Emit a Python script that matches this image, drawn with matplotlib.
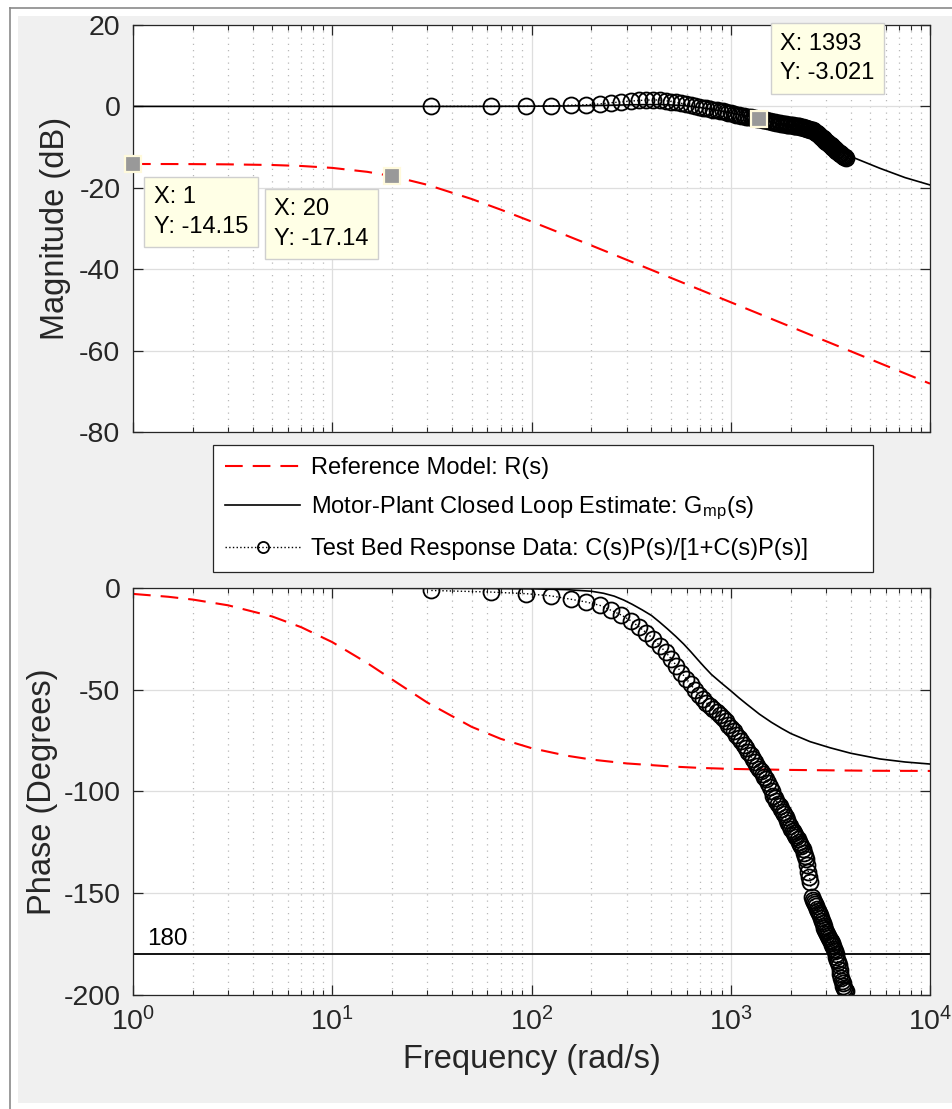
import matplotlib
matplotlib.use("Agg")
import numpy as np
import matplotlib.pyplot as plt
from matplotlib.patches import Rectangle
from matplotlib.lines import Line2D

plt.rcParams["font.family"] = ["Liberation Sans", "DejaVu Sans"]
plt.rcParams["mathtext.fontset"] = "custom"
plt.rcParams["mathtext.rm"] = "Liberation Sans"
plt.rcParams["mathtext.it"] = "Liberation Sans:italic"
plt.rcParams["axes.unicode_minus"] = False

# Reference model R(s)
ref_w = [1, 1.5, 2, 3, 5, 7, 10, 15, 20, 30, 50, 70, 100, 150, 200, 300,
         500, 700, 1000, 2000, 5000, 10000]
ref_mag = [-14.15, -14.16, -14.18, -14.24, -14.40, -14.64, -15.11, -16.08,
           -17.14, -19.26, -22.74, -25.36, -28.29, -31.72, -34.18, -37.68,
           -42.11, -45.03, -48.12, -54.14, -62.10, -68.12]
ref_phase = [-2.9, -4.3, -5.7, -8.5, -14.0, -19.3, -26.6, -36.9, -45.0,
             -56.3, -68.2, -74.1, -78.7, -82.4, -84.3, -86.2, -87.7, -88.4,
             -88.9, -89.4, -89.8, -89.9]

# Motor-plant closed loop estimate Gmp(s)
gmp_w = [1, 10, 50, 100, 150, 200, 230, 260, 290, 320, 360, 400, 440, 480,
         530, 580, 630, 680, 740, 800, 900, 1000, 1100, 1200, 1393, 1600,
         1800, 2000, 2500, 3150, 4000, 5600, 7500, 10000]
gmp_mag = [0, 0, 0, 0.05, 0.1, 0.2, 0.25, 0.3, 0.35, 0.4, 0.43, 0.45, 0.45,
           0.4, 0.3, 0.2, 0.0, -0.2, -0.45, -0.7, -1.15, -1.6, -1.95, -2.3,
           -3.021, -3.8, -4.55, -5.3, -7.1, -9.3, -12.3, -15.2, -17.5, -19.3]
gmp_phase = [0, -0.1, -0.2, -0.4, -0.8, -1.6, -2.6, -4.0, -5.9, -8.0, -10.8,
             -13.5, -16.8, -20.0, -23.8, -27.5, -31.3, -35.0, -39.0, -42.5,
             -46.8, -50.5, -54.0, -57.0, -62.0, -66.0, -69.0, -71.5, -75.5,
             -78.5, -81.2, -84.0, -85.5, -86.5]

# Test bed response data (frequency in Hz)
test_hz = [5, 10, 15, 20, 25, 30, 35, 40, 45, 50,
           55, 60, 65, 70, 75, 80, 85, 90, 95, 100,
           105, 110, 115, 120, 125, 130, 135, 140, 145, 150,
           155, 160, 165, 170, 175, 180, 185, 190, 195, 200,
           205, 210, 215, 220, 225, 230, 235, 240, 245, 250,
           255, 260, 265, 270, 275, 280, 285, 290, 295, 300,
           305, 310, 315, 320, 325, 330, 335, 340, 345, 350,
           355, 360, 365, 370, 375, 380, 385, 390, 395, 400,
           405, 410, 415, 420, 425, 430, 435, 440, 445, 450,
           455, 460, 465, 470, 475, 480, 485, 490, 495, 500,
           505, 510, 515, 520, 525, 530, 535, 540, 545, 550,
           555, 560, 565, 570, 575, 580, 585, 590, 595, 600]
test_mag = [0.0, 0.0, 0.0, 0.1, 0.3, 0.4, 0.6, 0.9, 1.1, 1.3,
            1.45, 1.55, 1.6, 1.55, 1.4, 1.2, 1.0, 0.75, 0.5, 0.25,
            0.05, -0.1, -0.3, -0.45, -0.6, -0.8, -0.95, -1.1, -1.25, -1.4,
            -1.55, -1.7, -1.85, -2.0, -2.1, -2.25, -2.4, -2.5, -2.6, -2.7,
            -2.8, -2.9, -3.0, -3.05, -3.15, -3.25, -3.35, -3.45, -3.55, -3.65,
            -3.75, -3.85, -3.95, -4.05, -4.15, -4.2, -4.25, -4.3, -4.35, -4.4,
            -4.45, -4.5, -4.55, -4.6, -4.65, -4.7, -4.75, -4.8, -4.85, -4.9,
            -5.0, -5.05, -5.1, -5.2, -5.3, -5.35, -5.45, -5.5, -5.6, -5.7,
            -5.75, -5.85, -6.05, -6.25, -6.45, -6.65, -6.85, -7.05, -7.25, -7.45,
            -7.65, -7.85, -8.05, -8.25, -8.45, -8.65, -8.85, -9.05, -9.25, -9.4,
            -9.6, -9.8, -9.95, -10.15, -10.3, -10.5, -10.65, -10.85, -11.0, -11.2,
            -11.35, -11.5, -11.65, -11.8, -11.95, -12.1, -12.2, -12.35, -12.45, -12.6]
test_phase = [-1.2, -2.0, -2.8, -3.9, -5.5, -6.9, -8.5, -11.0, -13.3, -16.0,
              -19.0, -22.0, -25.0, -28.3, -31.5, -34.8, -38.2, -41.6, -44.5, -47.3,
              -50.0, -52.5, -54.5, -56.3, -58.0, -59.6, -61.0, -62.6, -64.1, -65.6,
              -67.1, -68.7, -70.3, -72.0, -73.7, -75.4, -77.1, -78.8, -80.5, -82.3,
              -84.0, -85.7, -87.4, -88.7, -90.0, -91.4, -92.7, -94.0, -96.0, -98.0,
              -100.0, -102.0, -103.4, -104.7, -106.0, -107.3, -108.6, -109.9, -111.3, -112.7,
              -114.1, -115.5, -116.9, -118.2, -119.5, -120.5, -121.5, -122.5, -123.5, -124.8,
              -126.0, -127.0, -128.5, -130.0, -131.5, -133.0, -136.0, -139.5, -142.0, -144.5,
              -152.0, -153.5, -154.5, -155.5, -156.5, -157.5, -158.5, -159.5, -160.5, -162.0,
              -163.5, -164.8, -166.0, -167.0, -168.0, -169.0, -170.0, -171.0, -172.0, -172.8,
              -173.6, -174.4, -175.2, -176.0, -177.2, -178.5, -179.8, -181.2, -182.6, -184.0,
              -185.5, -187.5, -189.5, -191.5, -193.0, -194.3, -195.4, -196.4, -197.4, -198.0]

# data tips: (x, y, text offset in points)
tips = [(1, -14.15, (15, -16)), (20, -17.14, (-85, -16)), (1393, -3.021, (15, 62))]

AX_COLOR = "#262626"
RED_DASH = (0, (8.5, 4.8))


def style_axes(ax, yticks, ylim):
    ax.set_xscale("log")
    ax.set_xlim(1, 1e4)
    ax.set_ylim(*ylim)
    ax.set_yticks(yticks)
    ax.set_facecolor("white")
    ax.grid(True, which="major", color="#dedede", linewidth=0.9, linestyle="-")
    ax.grid(True, which="minor", axis="x", color="#b8b8b8", linewidth=0.9,
            linestyle=(0, (1, 4)))
    ax.tick_params(which="both", direction="in", top=True, right=True,
                   colors=AX_COLOR, labelsize=20.5, pad=9)
    ax.tick_params(which="major", length=7, width=0.9)
    ax.tick_params(which="minor", length=3.5, width=0.8)
    for spine in ax.spines.values():
        spine.set_color(AX_COLOR)
        spine.set_linewidth(0.9)
    ax.set_axisbelow(True)


def add_tip(ax, x, y, offset):
    ax.plot(x, y, marker="s", markersize=12, markerfacecolor="#999999",
            markeredgecolor="#fffadc", markeredgewidth=1.6, zorder=6,
            clip_on=False)
    ax.annotate(f"X: {x:g}\nY: {y:g}", xy=(x, y), xytext=offset,
                textcoords="offset points", ha="left", va="top", fontsize=17,
                linespacing=1.45, color="black", zorder=7,
                bbox=dict(boxstyle="square,pad=0.4", facecolor="#ffffe6",
                          edgecolor="#cfcfcf", linewidth=1))


def main():
    w_test = 2 * np.pi * np.array(test_hz)

    fig = plt.figure(figsize=(9.52, 11.09), dpi=100, facecolor="white")
    fig.patches.append(Rectangle((18 / 952, 1 - 1103 / 1109), 1, 1087 / 1109,
                                 transform=fig.transFigure, facecolor="#f0f0f0",
                                 edgecolor="none", zorder=-2))
    fig.add_artist(Line2D([9.5 / 952, 9.5 / 952], [0, 1 - 8 / 1109],
                          transform=fig.transFigure, color="#8a8a8a", lw=1.2))
    fig.add_artist(Line2D([9.5 / 952, 1], [1 - 8 / 1109, 1 - 8 / 1109],
                          transform=fig.transFigure, color="#8a8a8a", lw=1.2))

    ax1 = fig.add_axes([133 / 952, 1 - 432 / 1109, 797 / 952, 407 / 1109])
    ax2 = fig.add_axes([133 / 952, 1 - 995 / 1109, 797 / 952, 407 / 1109])

    circle_style = dict(color="black", lw=1, linestyle=":", marker="o",
                        markersize=11.5, markerfacecolor="none",
                        markeredgecolor="black", markeredgewidth=1.3)

    # magnitude
    ax1.plot(ref_w, ref_mag, color="red", lw=1.5, linestyle=RED_DASH)
    ax1.plot(gmp_w, gmp_mag, color="black", lw=1.2)
    ax1.plot(w_test, test_mag, **circle_style)
    style_axes(ax1, [-80, -60, -40, -20, 0, 20], (-80, 20))
    ax1.tick_params(labelbottom=False)
    ax1.set_ylabel("Magnitude (dB)", fontsize=23.5, color=AX_COLOR, labelpad=6)
    for x, y, off in tips:
        add_tip(ax1, x, y, off)

    # phase
    h_ref, = ax2.plot(ref_w, ref_phase, color="red", lw=1.5, linestyle=RED_DASH)
    h_gmp, = ax2.plot(gmp_w, gmp_phase, color="black", lw=1.2)
    h_test, = ax2.plot(w_test, test_phase, **circle_style)
    ax2.axhline(-180, color="black", lw=1.3)
    ax2.text(1.18, -175.5, "180", fontsize=17.5, color="black", ha="left",
             va="baseline")
    style_axes(ax2, [-200, -150, -100, -50, 0], (-200, 0))
    ax2.set_ylabel("Phase (Degrees)", fontsize=23.5, color=AX_COLOR, labelpad=4)
    ax2.set_xlabel("Frequency (rad/s)", fontsize=23.5, color=AX_COLOR, labelpad=5)

    leg = fig.legend([h_ref, h_gmp, h_test],
                     ["Reference Model: R(s)",
                      "Motor-Plant Closed Loop Estimate: G$_{\\mathrm{mp}}$(s)",
                      "Test Bed Response Data: C(s)P(s)/[1+C(s)P(s)]"],
                     loc="upper left", mode="expand",
                     bbox_to_anchor=(213 / 952, 1 - 572 / 1109, 660 / 952, 127 / 1109),
                     bbox_transform=fig.transFigure, borderaxespad=0,
                     fontsize=17, fancybox=False, framealpha=1,
                     edgecolor=AX_COLOR, handlelength=3.2, handletextpad=0.45,
                     labelspacing=0.68, borderpad=0.5, numpoints=1)
    leg.get_frame().set_linewidth(0.9)
    for h in leg.legend_handles:
        if h.get_marker() == "o":
            h.set_markersize(8)

    fig.savefig("out.png", dpi=100, facecolor=fig.get_facecolor())


if __name__ == "__main__":
    main()
